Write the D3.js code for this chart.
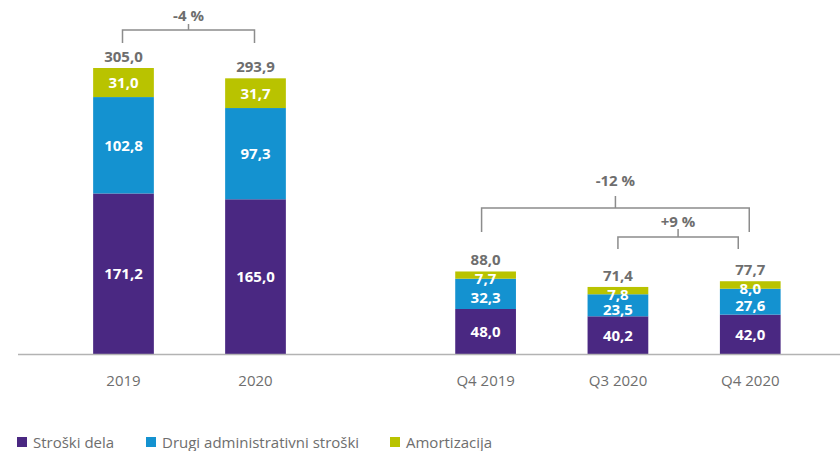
<!DOCTYPE html>
<html>
<head>
<meta charset="utf-8">
<script src="https://cdn.jsdelivr.net/npm/d3@7"></script>
<style>
  body { margin: 0; background: #fff; }
  svg { display: block; font-family: "Open Sans", "Noto Sans", sans-serif; }
</style>
</head>
<body>
<div id="chart"></div>
<script>
const yearCats = ['2019', '2020'];
const quarterCats = ['Q4 2019', 'Q3 2020', 'Q4 2020'];
const periods = yearCats.concat(quarterCats);
const stroskiDela = [171.2, 165.0, 48.0, 40.2, 42.0];
const drugiStroski = [102.8, 97.3, 32.3, 23.5, 27.6];
const amortizacija = [31.0, 31.7, 7.7, 7.8, 8.0];
const totals = [305.0, 293.9, 88.0, 71.4, 77.7];
const seriesNames = ['Stroški dela', 'Drugi administrativni stroški', 'Amortizacija'];
const changes = [
  { from: '2019', to: '2020', label: '-4 %' },
  { from: 'Q4 2019', to: 'Q4 2020', label: '-12 %' },
  { from: 'Q3 2020', to: 'Q4 2020', label: '+9 %' }
];

const colors = ['#4a2882', '#1492d0', '#b9c300'];
const grey = '#6e6e6e';
const W = 840, H = 451;
const baseline = 354;

const svg = d3.select('#chart').append('svg')
  .attr('width', W)
  .attr('height', H);

const fmt = v => d3.format('.1f')(v).replace('.', ',');

const xYears = d3.scaleBand().domain(yearCats).range([57.5, 321.5])
  .paddingInner(0.54).paddingOuter(0.27);
const xQuarters = d3.scaleBand().domain(quarterCats).range([419.5, 816.5])
  .paddingInner(0.54).paddingOuter(0.27);
const xOf = c => yearCats.includes(c) ? xYears(c) : xQuarters(c);
const bw = xYears.bandwidth();

const y = d3.scaleLinear()
  .domain([0, d3.max(totals)])
  .range([baseline, 68]);

const rows = periods.map((p, i) => ({
  period: p, s0: stroskiDela[i], s1: drugiStroski[i], s2: amortizacija[i], total: totals[i]
}));
const stack = d3.stack().keys(['s0', 's1', 's2'])(rows);

// bars
stack.forEach((layer, li) => {
  svg.append('g').selectAll('rect').data(layer).enter().append('rect')
    .attr('x', d => xOf(d.data.period))
    .attr('width', bw)
    .attr('y', d => y(d[1]))
    .attr('height', d => y(d[0]) - y(d[1]))
    .attr('fill', colors[li]);
});

// segment labels: small top segments push their label down, and the middle one below it
const segLabels = [];
rows.forEach((r, i) => {
  const segs = stack.map(layer => layer[i]);
  const mid = segs.map(s => (y(s[0]) + y(s[1])) / 2);
  const small = y(segs[2][0]) - y(segs[2][1]) < 14;
  if (small) {
    mid[2] += 3.5;
    mid[1] = Math.max(mid[1] + 4, mid[2] + 15);
  }
  segs.forEach((s, k) => segLabels.push({
    x: xOf(r.period) + bw / 2, cy: mid[k], v: s[1] - s[0]
  }));
});
svg.append('g').selectAll('text').data(segLabels).enter().append('text')
  .attr('x', d => d.x)
  .attr('y', d => d.cy + 5.5)
  .attr('text-anchor', 'middle')
  .attr('fill', '#fff')
  .attr('font-weight', 700)
  .attr('font-size', 15)
  .text(d => fmt(d.v));

// totals
svg.append('g').selectAll('text').data(rows).enter().append('text')
  .attr('x', d => xOf(d.period) + bw / 2)
  .attr('y', d => y(d.s0 + d.s1 + d.s2) - 6)
  .attr('text-anchor', 'middle')
  .attr('fill', grey)
  .attr('font-weight', 700)
  .attr('font-size', 15)
  .text(d => fmt(d.total));

// axis
svg.append('line')
  .attr('x1', 18).attr('x2', W)
  .attr('y1', baseline + 0.5).attr('y2', baseline + 0.5)
  .attr('stroke', '#b3b3b3').attr('stroke-width', 1.5);

[xYears, xQuarters].forEach(sc => {
  const ax = svg.append('g')
    .attr('transform', `translate(0,${baseline})`)
    .call(d3.axisBottom(sc).tickSize(0).tickPadding(21));
  ax.select('.domain').remove();
  ax.selectAll('text')
    .attr('fill', grey)
    .attr('font-size', 15)
    .attr('font-family', '"Open Sans", sans-serif');
});

// change brackets
const bracketLevels = [
  { bar: 30, leg: 43, tick: 24, text: 21, dl: -1, dr: -1 },
  { bar: 208, leg: 232, tick: 196, text: 186, dl: -4, dr: -1 },
  { bar: 237, leg: 249, tick: 229, text: 227, dl: 0, dr: -12 }
];
changes.forEach((c, i) => {
  const lv = bracketLevels[i];
  const x1 = xOf(c.from) + bw / 2 + lv.dl;
  const x2 = xOf(c.to) + bw / 2 + lv.dr;
  const xm = (x1 + x2) / 2;
  svg.append('path')
    .attr('d', `M${x1},${lv.leg}V${lv.bar}H${x2}V${lv.leg}M${xm},${lv.bar}V${lv.tick}`)
    .attr('fill', 'none')
    .attr('stroke', '#8c8c8c')
    .attr('stroke-width', 1.5);
  svg.append('text')
    .attr('x', xm)
    .attr('y', lv.text)
    .attr('text-anchor', 'middle')
    .attr('fill', grey)
    .attr('font-weight', 700)
    .attr('font-size', 15)
    .text(c.label);
});

// legend
const legendX = [17, 146, 390];
const lg = svg.append('g').attr('transform', 'translate(0,442)');
seriesNames.forEach((n, i) => {
  lg.append('rect')
    .attr('x', legendX[i]).attr('y', -5)
    .attr('width', 10).attr('height', 10)
    .attr('fill', colors[i]);
  lg.append('text')
    .attr('x', legendX[i] + 16).attr('y', 5.5)
    .attr('fill', grey)
    .attr('font-size', 15)
    .text(n);
});
</script>
</body>
</html>
